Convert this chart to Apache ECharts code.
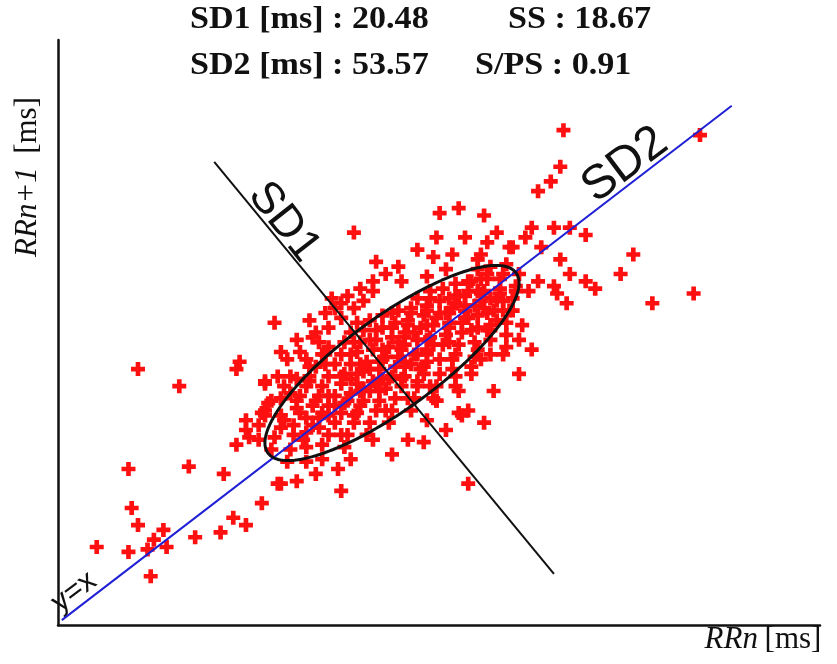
<!DOCTYPE html>
<html><head><meta charset="utf-8">
<script src="https://cdn.jsdelivr.net/npm/echarts@6/dist/echarts.min.js"></script>
<style>html,body{margin:0;padding:0;background:#fff}#c{width:837px;height:664px}</style>
</head><body><div id="c"></div>
<script>
// ---- text ----
const statLine1 = ['SD1 [ms] : 20.48', 'SS : 18.67'];
const statLine2 = ['SD2 [ms] : 53.57', 'S/PS : 0.91'];
const xAxisTitle = ['RRn', '[ms]'];
const yAxisTitle = ['RRn+1', '[ms]'];

// ---- axis ranges (ms) ----
const xRange = [560.8, 800.8];
const yRange = [560, 800];

// ---- RR interval pairs [RRn, RRn+1] (ms) : outlying beats ----
const outerPairs = [
  [586,665],[599,658],[618,668],[617,665],[631,672],[626,659],[626,648],[620,644],[620,640],[621,637],
  [617,634],[583,624],[602,625],[613,622],[630,618],[625,610],[584,608],[586,601],[616,604],[620,601],
  [612,598],[604,596],[594,599],[591,595],[595,592],[589,591],[583,590],[573,592],[590,580],
  [720,763],[719,748],[716,742],[712,738],[763,761],[710,723],[708,719],[704,715],[717,723],[722,723],
  [727,720],[713,715],[719,710],[722,704],[712,701],[709,697],[717,699],[718,696],[721,692],[727,701],
  [730,698],[742,712],[738,704],[748,692],[761,696],
  [654,721],[681,729],[687,731],[695,728],[680,719],[689,719],[699,721],[696,717],[703,715],[674,714],
  [679,711],[685,712],[694,712],[661,709],[668,707],[669,701],[693,710],
  [707,683],[702,674],[706,663],[698,656],[687,647],[695,643],[680,652],
  [629,684],[626,660],[625,647],[710,673],[688,646],[676,635],[690,618],[631,618]
];

// ---- RR interval pairs [RRn, RRn+1] (ms) : dense core ----
const corePairs = [
  [633,627],[628,632],[624,636],
  [639,627],[634,632],[629,637],[624,642],
  [644,628],[639,633],[635,638],[631,641],[626,646],
  [644,634],[639,639],[635,642],[631,646],[627,651],
  [651,633],[646,638],[643,641],[639,645],[636,649],[631,653],
  [652,638],[648,643],[644,647],[641,650],[637,654],[632,658],
  [658,638],[654,643],[650,647],[646,650],[643,654],[639,658],[634,662],
  [659,643],[655,647],[651,651],[648,654],[644,658],[640,662],
  [665,643],[661,648],[657,652],[653,655],[650,659],[646,662],[642,666],[639,669],
  [666,648],[662,652],[659,656],[655,659],[651,663],[648,667],[644,671],
  [672,648],[667,653],[664,657],[660,660],[657,664],[653,667],[650,671],[646,674],
  [673,653],[669,658],[665,661],[662,665],[658,668],[655,672],[651,676],
  [679,653],[674,658],[670,662],[667,666],[663,669],[660,673],[656,676],[653,680],
  [680,658],[676,663],[672,667],[668,670],[665,674],[661,677],[657,681],
  [686,658],[681,663],[677,668],[673,671],[670,675],[666,678],[663,682],[659,685],
  [685,665],[681,669],[677,673],[674,677],[670,680],[667,684],[663,687],
  [691,666],[686,671],[682,675],[678,678],[675,682],[671,685],[668,689],
  [692,670],[687,675],[683,679],[679,683],[676,687],[672,690],
  [697,671],[692,676],[688,680],[684,684],[681,688],[677,691],[674,694],
  [697,677],[693,682],[689,686],[685,690],[681,693],[678,697],
  [702,679],[697,683],[693,687],[689,691],[686,695],[682,698],
  [702,684],[698,689],[694,693],[690,697],[686,700],
  [703,689],[699,693],[695,697],[691,701],
  [704,694],[700,698],[696,702],[693,706],
  [705,699],[701,704],[697,707],
  [706,704],[702,708],
  [633,669],[636,661],[640,666],[637,672],[643,676],[646,682],[650,686],[648,690],[654,690],[652,695],
  [657,693],[660,697],[645,671],[641,678],[655,684],[630,662],[634,655],[628,652],
  [680,652],[674,660],[687,656],[690,648],[683,640],[677,644],[671,636],[666,630],[660,636],[653,628],
  [649,624],[642,622],[636,619],[650,615],
  [701,693],[704,689],[699,685],[696,681],[706,677],[701,671],[694,669],[691,663],
  [677,703],[683,706],[690,701],[693,697],[687,695],[696,704],
  [638,636],[632,644],[650,638],[643,645],[636,652],[654,646],[646,654],[640,660],
  [664,648],[656,656],[650,662],[645,667],[662,656],[655,663],
  [671,653],[663,661],[656,667],[653,671],[669,661],[662,668],[654,676],
  [678,658],[670,666],[663,673],[659,677],[676,666],[669,673],[661,681],
  [686,662],[677,671],[670,678],[666,682],[685,669],[677,677],[671,683],[666,688],
  [684,676],[677,683],[672,688],[693,673],[684,682],[677,689],
  [691,681],[684,688],[678,694],[697,681],[689,689],[684,694],
  [696,688],[689,695],[701,689],[694,696],[690,700],[700,696],[694,702],[705,697],[700,702],
  [640,685],[645,688],[650,692],[656,698],[660,701],[664,704],[647,694],[642,680],[636,677],
  [648,650],[652,652],[657,657],[661,659],[666,662],[670,668],[674,671],[679,675],[683,688],[688,684],
  [692,691],[697,694],[642,652],[646,646],[653,661],[659,665],[664,670],[668,676],[673,680],[680,686],
  [686,692],[690,686],[695,690],[641,642],[637,647],[656,650],[675,665]
];

// ---- reference geometry (ms) ----
const identityLine = [[562,562],[773,773]];
const sd1AxisLine = [[610,750],[717,581]];
const ellipseCenter = [666, 667.5];
const ellipseSemiMajor = 54;   // along y = x
const ellipseSemiMinor = 17;   // perpendicular

const ellipsePts = [];
for (let k = 0; k <= 160; k++) {
  const t = 2 * Math.PI * k / 160;
  const u = ellipseSemiMajor * Math.cos(t), v = ellipseSemiMinor * Math.sin(t);
  ellipsePts.push([ellipseCenter[0] + (u - v) / Math.SQRT2, ellipseCenter[1] + (u + v) / Math.SQRT2]);
}

const plus = 'path://M5,0L10,0L10,5L15,5L15,10L10,10L10,15L5,15L5,10L0,10L0,5L5,5Z';
const serif = '"Liberation Serif", "Times New Roman", serif';
const sans = '"Liberation Sans", Arial, sans-serif';

const chart = echarts.init(document.getElementById('c'), null, {renderer: 'canvas'});
chart.setOption({
  animation: false,
  backgroundColor: '#fff',
  grid: {left: 58, right: 17, top: 40, bottom: 39},
  xAxis: {type: 'value', min: xRange[0], max: xRange[1],
    axisLine: {show: true, onZero: false, lineStyle: {color: '#111', width: 2.5}},
    axisTick: {show: false}, axisLabel: {show: false}, splitLine: {show: false}},
  yAxis: {type: 'value', min: yRange[0], max: yRange[1],
    axisLine: {show: true, onZero: false, lineStyle: {color: '#111', width: 2.5}},
    axisTick: {show: false}, axisLabel: {show: false}, splitLine: {show: false}},
  series: [
    {type: 'scatter', data: outerPairs.concat(corePairs), symbol: plus, symbolSize: 14,
      itemStyle: {color: '#ff1010', opacity: 1}, z: 2},
    {type: 'line', data: identityLine, symbol: 'none', lineStyle: {color: '#1f1fd6', width: 2}, z: 3},
    {type: 'line', data: sd1AxisLine, symbol: 'none', lineStyle: {color: '#111', width: 2}, z: 3},
    {type: 'line', data: ellipsePts, symbol: 'none', smooth: false, lineStyle: {color: '#111', width: 3}, z: 4}
  ],
  graphic: [
    {type: 'text', x: 190, y: 20, scaleX: 1.1, style: {text: statLine1[0], font: 'bold 31px ' + serif, fill: '#111', verticalAlign: 'middle'}},
    {type: 'text', x: 508, y: 20, scaleX: 1.1, style: {text: statLine1[1], font: 'bold 31px ' + serif, fill: '#111', verticalAlign: 'middle'}},
    {type: 'text', x: 190, y: 66, scaleX: 1.1, style: {text: statLine2[0], font: 'bold 31px ' + serif, fill: '#111', verticalAlign: 'middle'}},
    {type: 'text', x: 475, y: 66, scaleX: 1.1, style: {text: statLine2[1], font: 'bold 31px ' + serif, fill: '#111', verticalAlign: 'middle'}},
    {type: 'text', x: 763, y: 640, style: {text: '{i|' + xAxisTitle[0] + '}  {n|' + xAxisTitle[1] + '}',
      align: 'center', verticalAlign: 'middle',
      rich: {i: {fontStyle: 'italic', fontSize: 31, fontFamily: serif, fill: '#111'}, n: {fontSize: 31, fontFamily: serif, fill: '#111'}}}},
    {type: 'text', x: 28, y: 177, rotation: Math.PI / 2, style: {text: '{i|' + yAxisTitle[0] + '}    {n|' + yAxisTitle[1] + '}',
      align: 'center', verticalAlign: 'middle',
      rich: {i: {fontStyle: 'italic', fontSize: 31, fontFamily: serif, fill: '#111'}, n: {fontSize: 31, fontFamily: serif, fill: '#111'}}}},
    {type: 'text', x: 284, y: 222, rotation: -52 * Math.PI / 180, style: {text: 'SD1', align: 'center', verticalAlign: 'middle', font: '45px ' + sans, fill: '#111'}},
    {type: 'text', x: 625, y: 165, rotation: 37 * Math.PI / 180, style: {text: 'SD2', align: 'center', verticalAlign: 'middle', font: '48px ' + sans, fill: '#111'}},
    {type: 'text', x: 74, y: 592, rotation: 37 * Math.PI / 180, style: {text: 'y=x', align: 'center', verticalAlign: 'middle', font: '30px ' + sans, fill: '#111'}}
  ]
});
</script></body></html>
